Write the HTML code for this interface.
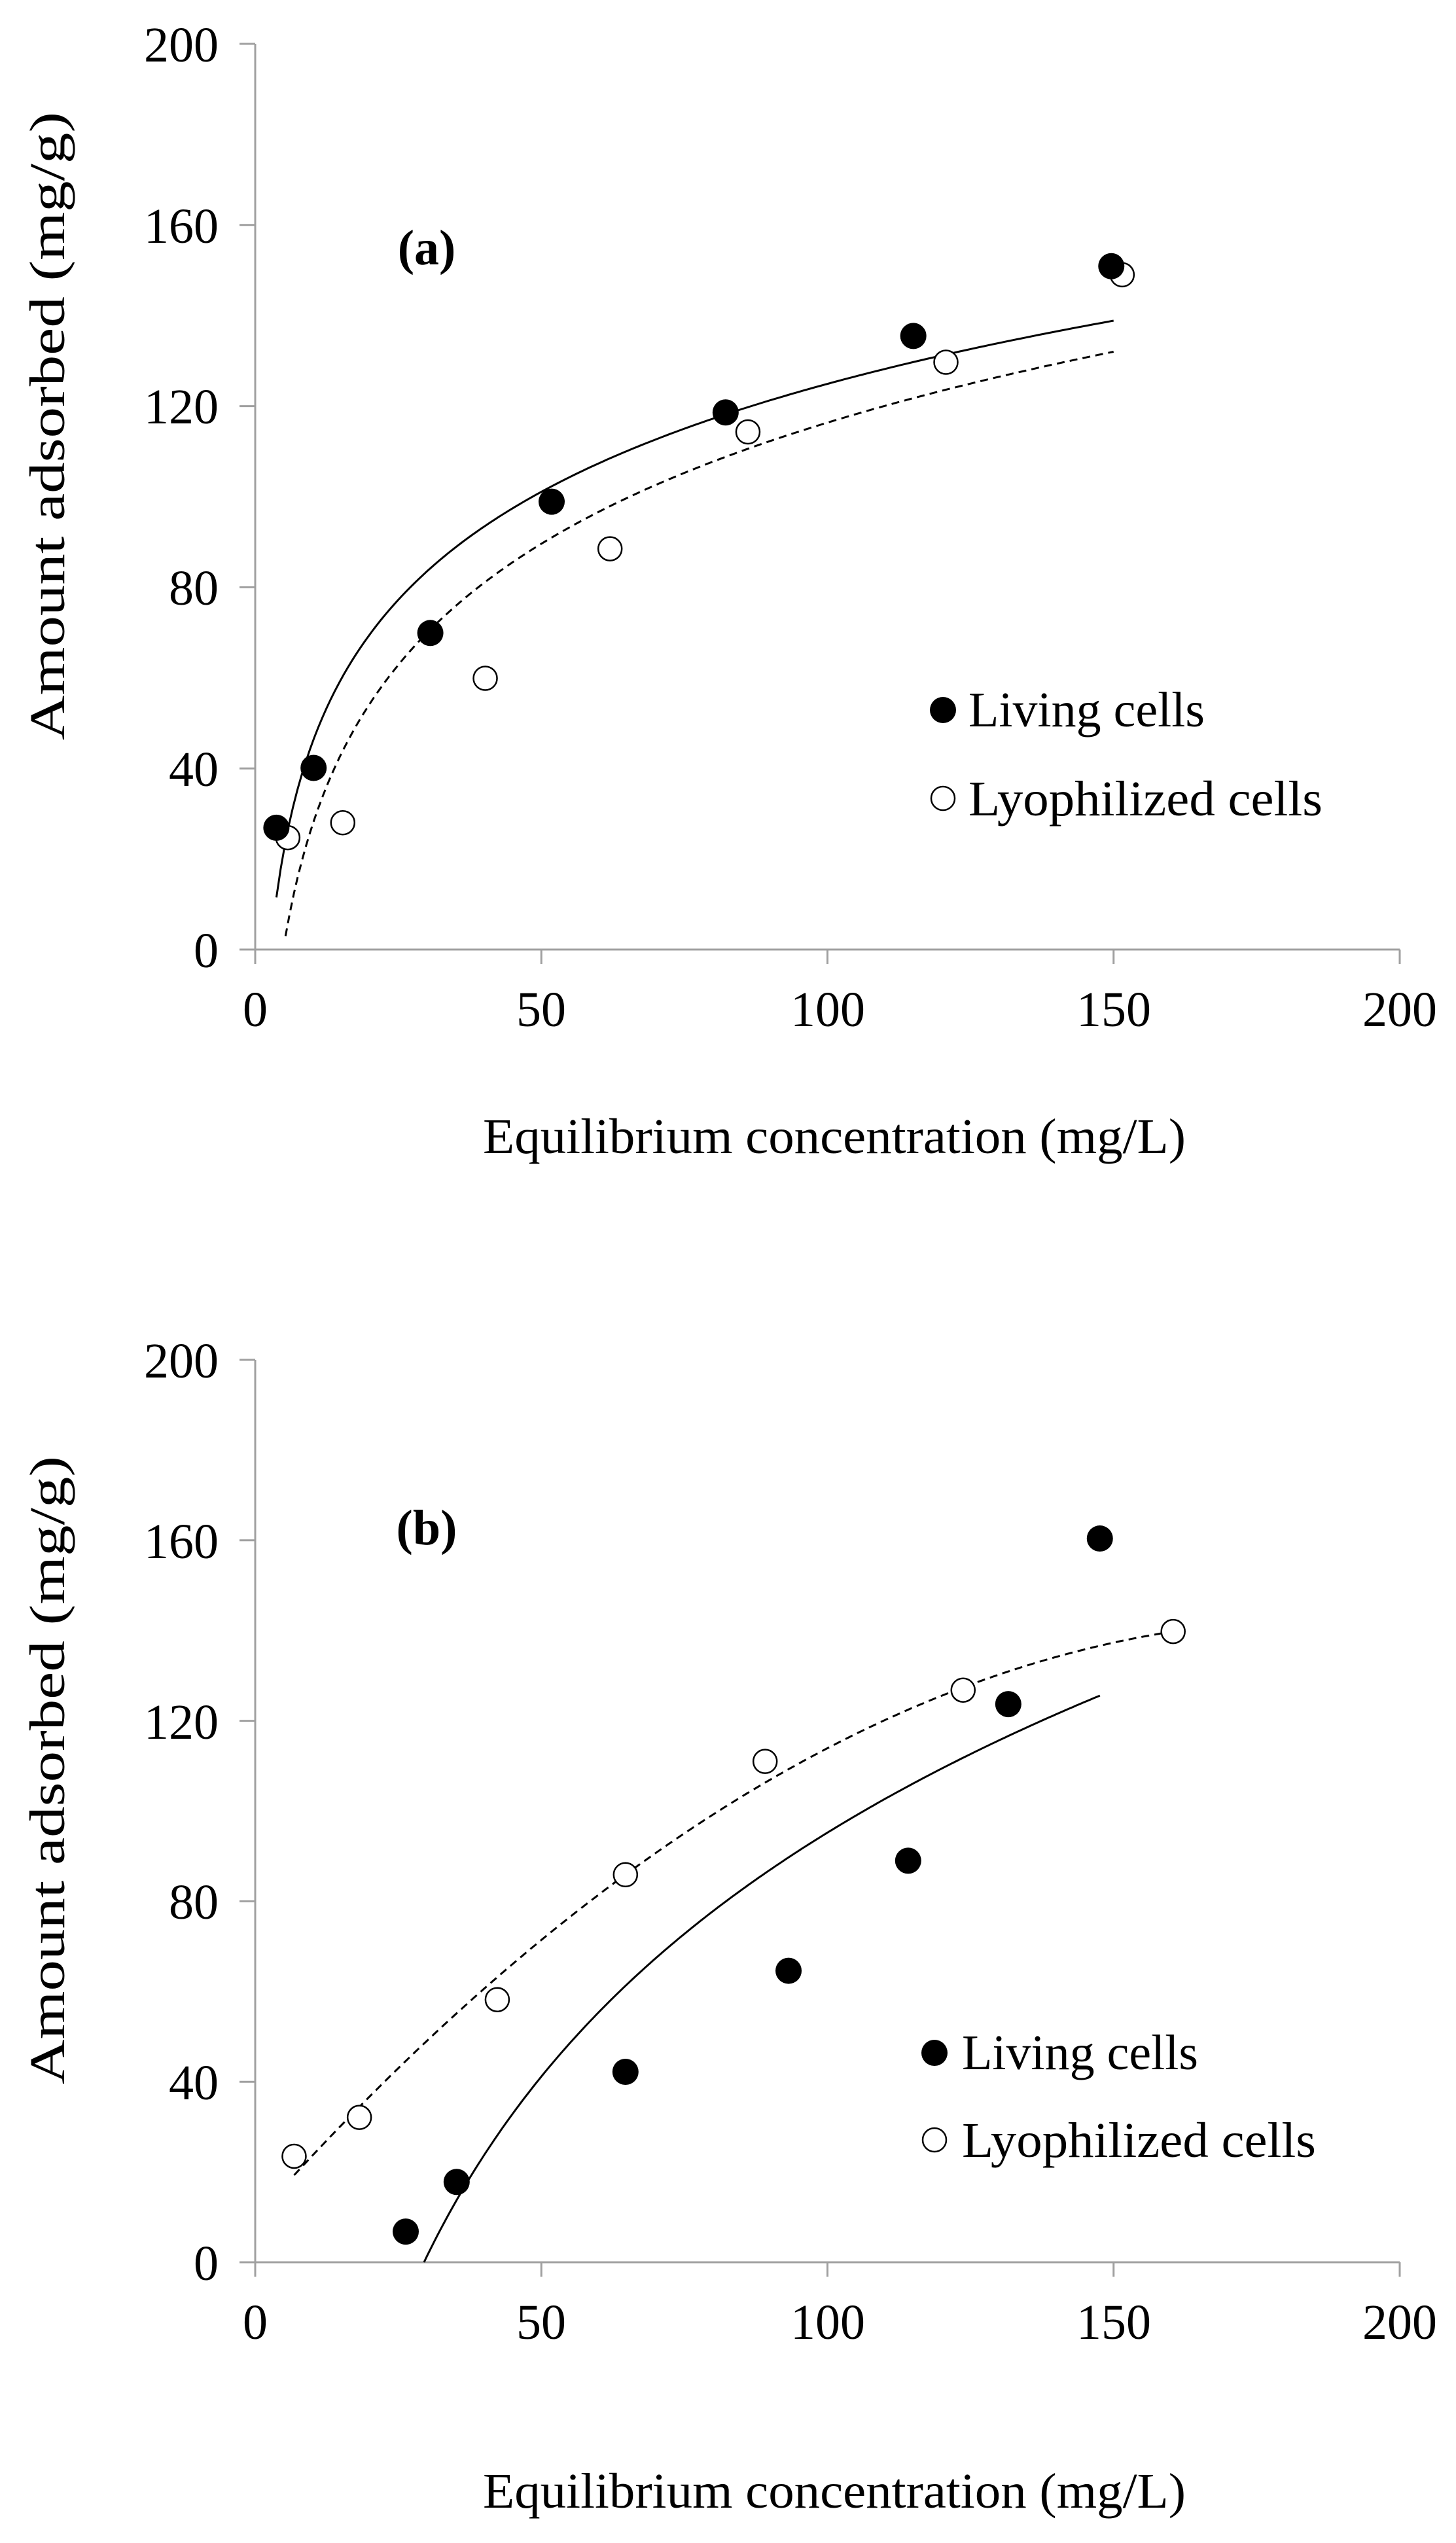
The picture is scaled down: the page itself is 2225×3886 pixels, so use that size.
<!DOCTYPE html>
<html><head><meta charset="utf-8"><style>
html,body{margin:0;padding:0;background:#fff;}
svg{display:block;font-family:"Liberation Serif","Times New Roman",serif;}
</style></head><body>
<svg id="s" width="2225" height="3886" viewBox="0 0 2225 3886" xmlns="http://www.w3.org/2000/svg">
<rect width="2225" height="3886" fill="#fff"/>
<g id="g"></g>
<g font-size="76" fill="#000">
<g text-anchor="end">
<text x="334" y="1478">0</text><text x="334" y="1201">40</text><text x="334" y="924">80</text><text x="334" y="647">120</text><text x="334" y="371">160</text><text x="334" y="94">200</text>
</g>
<g text-anchor="middle">
<text x="390" y="1568">0</text><text x="827" y="1568">50</text><text x="1265" y="1568">100</text><text x="1702" y="1568">150</text><text x="2139" y="1568">200</text>
</g>
<text x="738" y="1762" textLength="1074" lengthAdjust="spacingAndGlyphs">Equilibrium concentration (mg/L)</text>
<text transform="translate(98,651) rotate(-90)" text-anchor="middle" textLength="960" lengthAdjust="spacingAndGlyphs">Amount adsorbed (mg/g)</text>
<text x="652" y="404" text-anchor="middle" font-weight="bold">(a)</text>
<text x="1480" y="1110">Living cells</text>
<text x="1480" y="1246" textLength="541" lengthAdjust="spacingAndGlyphs">Lyophilized cells</text>
</g>
<g font-size="76" fill="#000">
<g text-anchor="end">
<text x="334" y="3484">0</text><text x="334" y="3208">40</text><text x="334" y="2932">80</text><text x="334" y="2657">120</text><text x="334" y="2381">160</text><text x="334" y="2105">200</text>
</g>
<g text-anchor="middle">
<text x="390" y="3574">0</text><text x="827" y="3574">50</text><text x="1265" y="3574">100</text><text x="1702" y="3574">150</text><text x="2139" y="3574">200</text>
</g>
<text x="738" y="3832" textLength="1074" lengthAdjust="spacingAndGlyphs">Equilibrium concentration (mg/L)</text>
<text transform="translate(98,2705) rotate(-90)" text-anchor="middle" textLength="960" lengthAdjust="spacingAndGlyphs">Amount adsorbed (mg/g)</text>
<text x="652" y="2360" text-anchor="middle" font-weight="bold">(b)</text>
<text x="1470" y="3162">Living cells</text>
<text x="1470" y="3296" textLength="541" lengthAdjust="spacingAndGlyphs">Lyophilized cells</text>
</g>
</svg>
<script>
var g=document.getElementById('g'),NS='http://www.w3.org/2000/svg';
function el(t,a){var e=document.createElementNS(NS,t);for(var k in a)e.setAttribute(k,a[k]);g.appendChild(e);return e;}
function X(x){return 390+x*8.745;}
function panel(y0,sc,liv,lyo,f1,r1,f2,r2,leg){
  var Y=function(y){return y0-y*sc;};
  var ax='#a0a0a0';
  el('line',{x1:390,y1:Y(200),x2:390,y2:y0+22,stroke:ax,'stroke-width':3});
  el('line',{x1:366,y1:y0,x2:2139,y2:y0,stroke:ax,'stroke-width':3});
  for(var i=1;i<=5;i++)el('line',{x1:366,y1:Y(i*40),x2:390,y2:Y(i*40),stroke:ax,'stroke-width':3});
  for(var i=1;i<=4;i++)el('line',{x1:X(i*50),y1:y0,x2:X(i*50),y2:y0+22,stroke:ax,'stroke-width':3});
  function path(f,r,dash){var d='';for(var i=0;i<=200;i++){var x=r[0]+(r[1]-r[0])*i/200;d+=(i?'L':'M')+X(x).toFixed(1)+','+Y(f(x)).toFixed(1);}
    var a={d:d,fill:'none',stroke:'#000','stroke-width':3};if(dash)a['stroke-dasharray']='12 8';el('path',a);}
  path(f1,r1,false);path(f2,r2,true);
  lyo.forEach(function(p){el('circle',{cx:X(p[0]),cy:Y(p[1]),r:18,fill:'#fff',stroke:'#000','stroke-width':2.5});});
  liv.forEach(function(p){el('circle',{cx:X(p[0]),cy:Y(p[1]),r:20,fill:'#000'});});
  el('circle',{cx:leg[0],cy:leg[1],r:20,fill:'#000'});
  el('circle',{cx:leg[0],cy:leg[2],r:18,fill:'#fff',stroke:'#000','stroke-width':2.5});
}
panel(1451,6.92,
 [[3.7,26.9],[10.2,40.1],[30.6,69.9],[51.8,98.9],[82.2,118.6],[115,135.5],[149.6,150.9]],
 [[5.7,24.7],[15.3,28],[40.2,59.9],[62,88.5],[86.1,114.3],[120.7,129.7],[151.5,149]],
 function(x){return -33.5+34.4*Math.log(x);},[3.7,150],
 function(x){return -61.4+38.6*Math.log(x);},[5.3,150],[1441,1085,1220]);
panel(3457,6.895,
 [[26.3,6.8],[35.2,17.8],[64.7,42.2],[93.2,64.6],[114.1,89],[131.6,123.7],[147.6,160.4]],
 [[6.8,23.5],[18.2,32.1],[42.3,58.2],[64.7,85.9],[89.1,111],[123.7,126.8],[160.4,139.8]],
 function(x){return 78*Math.log(x/29.5);},[29.5,147.6],
 function(x){return 9.8+1.4236*x-0.003823*x*x;},[6.8,160.4],[1428,3137,3270]);
</script>
</body></html>
